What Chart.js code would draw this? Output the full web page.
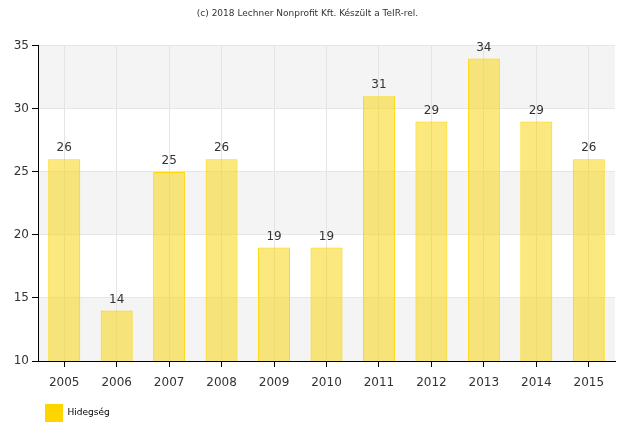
<!DOCTYPE html>
<html>
<head>
<meta charset="utf-8">
<script src="https://cdn.jsdelivr.net/npm/chart.js@4"></script>
<style>
  html, body { margin: 0; padding: 0; background: #fff; }
  #wrap { width: 618px; height: 425px; }
</style>
</head>
<body>
<div id="wrap"><canvas id="chart"></canvas></div>
<script>
const years = ["2005", "2006", "2007", "2008", "2009", "2010", "2011", "2012", "2013", "2014", "2015"];
const hidegseg = [26, 14, 25, 26, 19, 19, 31, 29, 34, 29, 26];
const yTicks = [10, 15, 20, 25, 30, 35];

Chart.defaults.font.family = "'DejaVu Sans', Verdana, sans-serif";
Chart.defaults.color = '#333';

// alternating horizontal bands behind the bars
const bands = {
    id: 'bands',
    beforeDraw(chart) {
        const { ctx, chartArea: { left, right } } = chart;
        const y = chart.scales.y;
        ctx.save();
        ctx.fillStyle = '#f4f4f4';
        for (let i = 0; i < yTicks.length - 1; i++) {
            if ((yTicks.length - 2 - i) % 2 !== 0) continue;
            const top = y.getPixelForValue(yTicks[i + 1]);
            const bot = y.getPixelForValue(yTicks[i]);
            ctx.fillRect(left, top, right - left, bot - top);
        }
        ctx.restore();
    },
    // move the legend a bit right, as in the original
    afterLayout(chart) {
        chart.legend.left += 42;
        chart.legend.right += 42;
    }
};

// value labels on top of each bar
const valueLabels = {
    id: 'valueLabels',
    afterDatasetsDraw(chart) {
        const { ctx } = chart;
        const meta = chart.getDatasetMeta(0);
        ctx.save();
        ctx.font = '12px DejaVu Sans';
        ctx.fillStyle = '#333';
        ctx.textAlign = 'center';
        ctx.textBaseline = 'bottom';
        meta.data.forEach((bar, i) => {
            ctx.fillText(chart.data.datasets[0].data[i], bar.x, bar.y - 5);
        });
        ctx.restore();
    }
};

new Chart(document.getElementById('chart'), {
    type: 'bar',
    data: {
        labels: years,
        datasets: [{
            label: 'Hidegség',
            data: hidegseg,
            backgroundColor: 'rgba(248, 210, 10, 0.52)',
            borderColor: '#FFD700',
            borderWidth: 1,
            barPercentage: 0.61,
            categoryPercentage: 1
        }]
    },
    options: {
        responsive: true,
        maintainAspectRatio: false,
        animation: false,
        layout: { padding: { left: 0, right: 3, top: 0, bottom: -7 } },
        scales: {
            x: {
                afterFit: s => { s.height = 40; },
                grid: {
                    offset: false,
                    color: '#e4e4e4',
                    tickColor: '#000',
                    tickLength: 6,
                    drawOnChartArea: true
                },
                border: { color: '#000', width: 1 },
                ticks: { font: { size: 12 }, color: '#333', padding: 9 }
            },
            y: {
                min: 10,
                max: 35,
                afterFit: s => { s.width = 38; },
                grid: {
                    color: '#e6e6e6',
                    tickColor: '#000',
                    tickLength: 6
                },
                border: { color: '#000', width: 1 },
                ticks: { stepSize: 5, font: { size: 12 }, color: '#333', padding: 3 }
            }
        },
        plugins: {
            title: {
                display: true,
                text: '(c) 2018 Lechner Nonprofit Kft. Készült a TeIR-rel.',
                font: { size: 9, weight: 'normal' },
                color: '#333',
                padding: { top: 8, bottom: 27 }
            },
            legend: {
                position: 'bottom',
                align: 'start',
                labels: {
                    boxWidth: 18,
                    boxHeight: 18,
                    color: '#333',
                    font: { size: 9 },
                    padding: 3,
                    generateLabels: chart => [{
                        text: 'Hidegség',
                        fillStyle: '#FFD500',
                        strokeStyle: '#FFD500',
                        lineWidth: 0,
                        datasetIndex: 0
                    }]
                }
            },
            tooltip: { enabled: false }
        }
    },
    plugins: [bands, valueLabels]
});
</script>
</body>
</html>
